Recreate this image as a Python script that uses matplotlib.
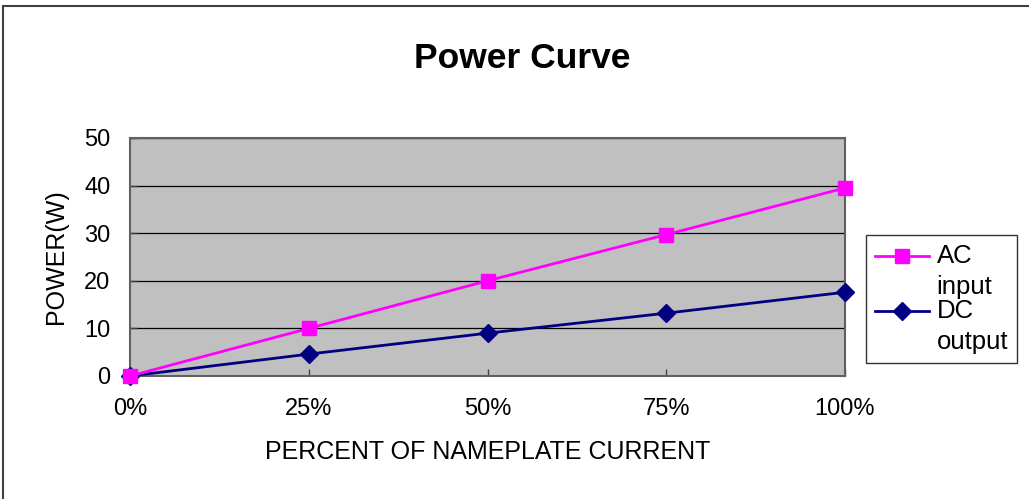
"""
Power Curve - AC input / DC output vs percent of nameplate current
"""

import matplotlib
matplotlib.use("Agg")
from matplotlib import pyplot as plt
from matplotlib.legend_handler import HandlerLine2D
from matplotlib.patches import Rectangle

categories = ["0%", "25%", "50%", "75%", "100%"]
ac_input = [0, 10, 20, 29.7, 39.5]
dc_output = [0, 4.6, 9.0, 13.2, 17.6]
y_ticks = [0, 10, 20, 30, 40, 50]

LEG_FONT = 18.5
LEG_LINESPACING = 1.38


class TopLineHandler(HandlerLine2D):
    """Simbol u legendi poravnat sa prvim redom teksta."""

    def create_artists(self, legend, orig_handle, xdescent, ydescent,
                       width, height, fontsize, trans):
        artists = super().create_artists(legend, orig_handle, xdescent,
                                         ydescent, width, height, fontsize, trans)
        shift = 0.5 * fontsize * LEG_LINESPACING * 0.9
        for a in artists:
            a.set_ydata([y + shift for y in a.get_ydata()])
        return artists


plt.rcParams["font.family"] = ["Liberation Sans", "DejaVu Sans"]

fig = plt.figure(figsize=(10.29, 4.99), dpi=100)
ax = fig.add_axes([130 / 1029, 1 - 376 / 499, 715 / 1029, 238 / 499])

# okvir oko cele slike (vidi se samo gore i levo)
fig.patches.append(Rectangle((3 / 1029, -0.1), 1.2, 1.1 - 6 / 499,
                             transform=fig.transFigure, fill=False,
                             edgecolor="#404040", linewidth=1.5))

ax.set_facecolor("#C0C0C0")
x = list(range(len(categories)))

ac_line, = ax.plot(x, ac_input, color="#FF00FF", linewidth=2, marker="s",
                   markersize=10.5, label="AC\ninput", clip_on=False, zorder=4)
dc_line, = ax.plot(x, dc_output, color="#000080", linewidth=2, marker="D",
                   markersize=9, label="DC\noutput", clip_on=False, zorder=3)

ax.set_xlim(0, 4)
ax.set_ylim(0, 50)
ax.set_yticks(y_ticks)
ax.set_xticks(x)
ax.set_xticklabels(categories)
ax.yaxis.grid(True, color="black", linewidth=0.9)
ax.set_axisbelow(True)

ax.tick_params(axis="both", direction="in", length=5, width=1, color="#404040",
               labelsize=17)
ax.tick_params(axis="x", pad=16)
ax.tick_params(axis="y", pad=14)

for side in ["left", "bottom", "right", "top"]:
    ax.spines[side].set_color("#606060")
    ax.spines[side].set_linewidth(1.5)

ax.set_xlabel("PERCENT OF NAMEPLATE CURRENT", fontsize=18, labelpad=14)
ax.set_ylabel("POWER(W)", fontsize=18, labelpad=12)

fig.text(522 / 1029, 1 - 58 / 499, "Power Curve", fontsize=25.5,
         fontweight="bold", ha="center", va="center")

leg = fig.legend(handles=[ac_line, dc_line], loc="upper left",
                 bbox_to_anchor=(866 / 1029, 1 - 235 / 499),
                 fontsize=LEG_FONT, frameon=True, fancybox=False,
                 borderaxespad=0, handlelength=2.1, handletextpad=0.3,
                 labelspacing=0.0, borderpad=0.35,
                 handler_map={ac_line: TopLineHandler(),
                              dc_line: TopLineHandler()})
for t in leg.get_texts():
    t.set_linespacing(LEG_LINESPACING)
leg.get_frame().set_edgecolor("black")
leg.get_frame().set_linewidth(1)

fig.savefig("out.png", dpi=100)
